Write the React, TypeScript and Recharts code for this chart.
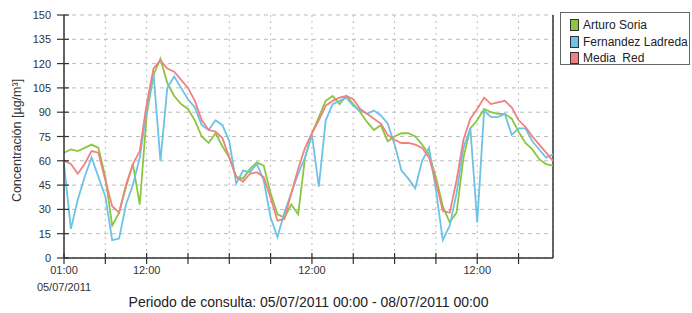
import React from 'react';
import {
  LineChart,
  Line,
  XAxis,
  YAxis,
  CartesianGrid,
  Legend,
  ReferenceLine,
  Label,
} from 'recharts';

// hourly readings, 05/07/2011 01:00 -> 08/07/2011 00:00
const arturoSoria = [
  65, 67, 66, 68, 70, 68, 50, 20, 28, 44, 58, 33, 88, 113, 123, 108, 100, 95, 92, 85, 75, 71, 77, 69,
  62, 50, 49, 55, 59, 57, 40, 27, 25, 33, 27, 62, 77, 87, 97, 100, 95, 100, 95, 90, 84, 79, 82, 72,
  75, 77, 77, 75, 70, 64, 50, 32, 22, 28, 62, 80, 85, 92, 90, 89, 89, 86, 78, 71, 67, 61, 58, 57,
];
const fernandezLadreda = [
  58, 18, 36, 50, 62, 50, 38, 11, 12, 33, 45, 62, 91, 114, 60, 105, 112, 105, 98, 93, 82, 79, 85, 82,
  72, 46, 54, 53, 58, 48, 25, 13, 28, 40, 52, 62, 76, 44, 85, 95, 97, 99, 94, 91, 89, 91, 88, 83,
  70, 54, 49, 43, 60, 68, 42, 11, 20, 40, 68, 80, 22, 91, 87, 87, 89, 76, 80, 80, 72, 67, 62, 64,
];
const mediaRed = [
  60, 58, 52, 58, 66, 65, 48, 32, 28, 45, 58, 66, 95, 117, 122, 117, 115, 110, 105, 97, 85, 79, 78, 74,
  62, 50, 47, 52, 53, 50, 37, 23, 24, 40, 55, 68, 77, 85, 94, 97, 99, 100, 98, 92, 89, 86, 83, 76,
  73, 71, 71, 70, 68, 62, 47, 29, 28, 48, 73, 86, 92, 99, 95, 96, 97, 93, 85, 81, 75, 70, 65, 60,
];

const xTicks = [0, 6, 12, 18, 24, 30, 36, 42, 48, 54, 60, 66];
const xTickLabels: Record<number, string[]> = {
  0: ['01:00', '05/07/2011'],
  12: ['12:00'],
  36: ['12:00'],
  60: ['12:00'],
};
const yTicks = [0, 15, 30, 45, 60, 75, 90, 105, 120, 135, 150];

const series = [
  { key: 'arturo', name: 'Arturo Soria', color: '#8cc63f' },
  { key: 'fernandez', name: 'Fernandez Ladreda', color: '#6cc3e6' },
  { key: 'media', name: 'Media  Red', color: '#f28080' },
];

const data = arturoSoria.map((v, i) => ({
  hour: i,
  arturo: v,
  fernandez: fernandezLadreda[i],
  media: mediaRed[i],
}));

const FONT = '"Liberation Sans", Arial, sans-serif';

const XTick = (props: any) => {
  const { x, y, payload } = props;
  const lines = xTickLabels[payload.value] || [];
  return (
    <g>
      <line x1={x} x2={x} y1={y - 5} y2={y + 6} stroke="#333" strokeWidth={1.2} />
      {lines.map((t, i) => (
        <text key={i} x={x} y={y + 16 + i * 17} textAnchor="middle" fontSize={11} fill="#333" fontFamily={FONT}>
          {t}
        </text>
      ))}
    </g>
  );
};

const YTick = (props: any) => {
  const { x, y, payload } = props;
  return (
    <g>
      <line x1={x + 6} x2={x + 18} y1={y} y2={y} stroke="#333" strokeWidth={1.2} />
      <text x={x} y={y + 4} textAnchor="end" fontSize={11} fill="#333" fontFamily={FONT}>
        {payload.value}
      </text>
    </g>
  );
};

const YTitle = (props: any) => {
  const vb = props.viewBox || { x: 0, y: 0, width: 64, height: 243 };
  const cx = vb.x + 18;
  const cy = vb.y + vb.height / 2 + 4;
  return (
    <text
      x={cx}
      y={cy}
      transform={`rotate(-90, ${cx}, ${cy})`}
      textAnchor="middle"
      dominantBaseline="middle"
      fontSize={12.5}
      fill="#333"
      fontFamily={FONT}
    >
      Concentración [µg/m³]
    </text>
  );
};

const LegendBox = () => (
  <div
    style={{
      border: '1px solid #666',
      background: '#fff',
      width: 130,
      height: 53,
      boxSizing: 'border-box',
      padding: '4px 0 0 9px',
      fontFamily: FONT,
      fontSize: 12,
      color: '#222',
    }}
  >
    {series.map((s) => (
      <div key={s.key} style={{ display: 'flex', alignItems: 'center', height: 16.5 }}>
        <span
          style={{
            display: 'inline-block',
            width: 7,
            height: 10,
            background: s.color,
            border: '1px solid #333',
            marginRight: 4,
          }}
        />
        <span style={{ whiteSpace: 'pre' }}>{s.name}</span>
      </div>
    ))}
  </div>
);

export default function App() {
  return (
    <div style={{ position: 'absolute', left: 0, top: 0, background: '#fff' }}>
      <LineChart width={692} height={313} data={data} margin={{ top: 15, right: 139, bottom: 0, left: 0 }}>
        <CartesianGrid horizontal={true} vertical={false} stroke="#bbb" strokeDasharray="4 4" />
        <CartesianGrid horizontal={false} vertical={true} stroke="#bbb" strokeDasharray="2 4" />
        <XAxis
          dataKey="hour"
          type="number"
          domain={[0, 71]}
          ticks={xTicks}
          interval={0}
          tickSize={0}
          tickMargin={0}
          tickLine={false}
          height={55}
          axisLine={{ stroke: '#333', strokeWidth: 1.5 }}
          tick={(p: any) => <XTick {...p} />}
        >
          <Label
            value="Periodo de consulta: 05/07/2011 00:00 - 08/07/2011 00:00"
            position="insideBottom"
            offset={6}
            style={{ fontSize: 14, fill: '#222', fontFamily: FONT }}
          />
        </XAxis>
        <YAxis
          type="number"
          domain={[0, 150]}
          ticks={yTicks}
          interval={0}
          width={64}
          tickSize={0}
          tickMargin={13}
          tickLine={false}
          axisLine={{ stroke: '#333', strokeWidth: 1.5 }}
          tick={(p: any) => <YTick {...p} />}
        >
          <Label content={(p: any) => <YTitle {...p} />} />
        </YAxis>
        <ReferenceLine x={71} stroke="#333" strokeWidth={1.5} />
        <Legend
          layout="horizontal"
          verticalAlign="middle"
          align="center"
          wrapperStyle={{ left: 560, top: 12, width: 131, height: 54 }}
          content={() => <LegendBox />}
        />
        {series.map((s) => (
          <Line
            key={s.key}
            type="linear"
            dataKey={s.key}
            name={s.name}
            stroke={s.color}
            strokeWidth={1.8}
            dot={false}
            isAnimationActive={false}
          />
        ))}
      </LineChart>
    </div>
  );
}
